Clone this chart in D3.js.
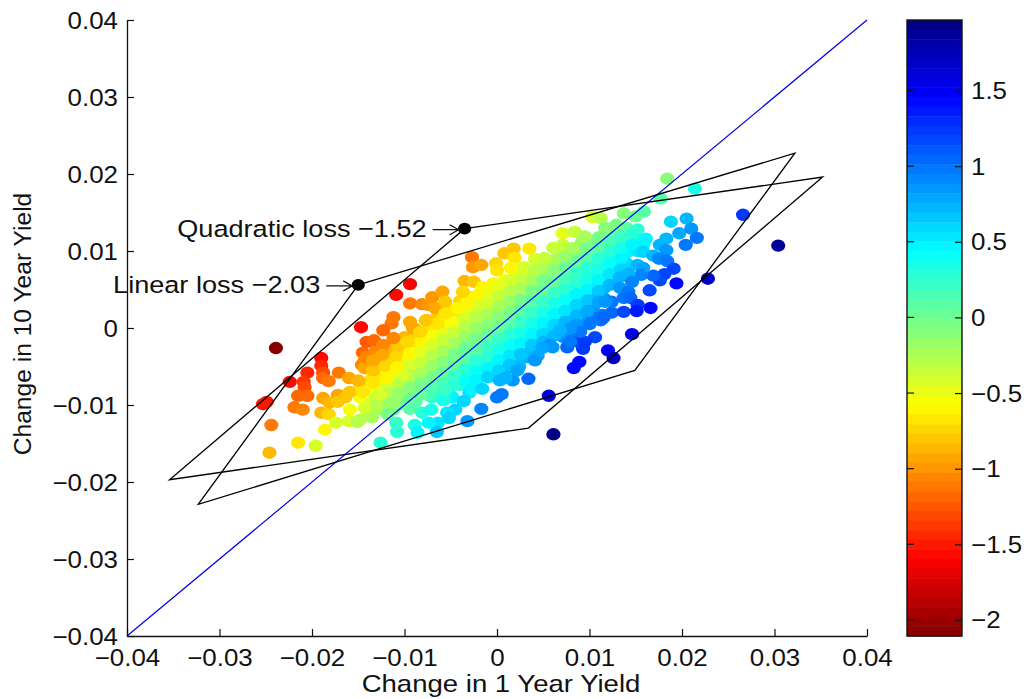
<!DOCTYPE html>
<html><head><meta charset="utf-8">
<script src="https://cdn.jsdelivr.net/npm/d3@7/dist/d3.min.js"></script>
<style>html,body{margin:0;background:#fff}svg{display:block}text{font-family:"Liberation Sans",Arial,sans-serif;fill:#111}</style>
</head><body><svg id="c" width="1026" height="699"></svg>
<script>
// Yield changes in basis points (1 bp = 0.0001), colour value = loss differential
// Dense core of the cloud (under the outer points)
const coreX=[
-148,-148,
-136,-136,-136,-136,-136,
-124,-124,-124,-124,-124,-124,
-112,-112,-112,-112,-112,-112,-112,
-100,-100,-100,-100,-100,-100,-100,
-88,-88,-88,-88,-88,-88,-88,-88,
-76,-76,-76,-76,-76,-76,-76,-76,
-64,-64,-64,-64,-64,-64,-64,-64,
-52,-52,-52,-52,-52,-52,-52,-52,-52,
-40,-40,-40,-40,-40,-40,-40,-40,-40,
-28,-28,-28,-28,-28,-28,-28,-28,-28,
-16,-16,-16,-16,-16,-16,-16,-16,-16,
-4,-4,-4,-4,-4,-4,-4,-4,-4,-4,
8,8,8,8,8,8,8,8,8,8,
20,20,20,20,20,20,20,20,20,20,
32,32,32,32,32,32,32,32,32,
44,44,44,44,44,44,44,44,44,
56,56,56,56,56,56,56,56,
68,68,68,68,68,68,68,68,
80,80,80,80,80,80,80,80,
92,92,92,92,92,92,92,92,
104,104,104,104,104,104,104,104,
116,116,116,116,116,116,116,
128,128,128,128,128,128,
140,140,140,140,
152,152,152,
8,24,44,60,72,84,100,112,124,-30,-48
];
const coreY=[
-72,-90,
-50,-66,-82,-97,-112,
-33,-48,-64,-78,-92,-106,
-22,-35,-50,-65,-79,-92,-106,
-12,-26,-40,-55,-70,-85,-98,
-2,-12,-25,-38,-52,-66,-80,-96,
10,-3,-16,-30,-43,-57,-71,-84,
16,2,-9,-23,-37,-51,-65,-78,
25,15,1,-13,-27,-41,-55,-68,-80,
35,22,8,-5,-19,-33,-47,-61,-74,
40,35,21,7,-7,-21,-35,-49,-62,
50,38,25,11,-3,-17,-31,-45,-58,
58,48,35,21,7,-7,-21,-35,-48,-60,
62,55,41,27,13,-1,-15,-29,-43,-55,
70,57,43,29,15,1,-13,-27,-41,-52,
72,58,43,29,15,1,-13,-27,-38,
82,69,55,41,27,13,-1,-15,-25,
85,69,55,41,27,13,-1,-12,
98,84,69,55,41,27,13,1,
95,82,68,54,40,26,12,0,
112,98,84,70,56,42,28,14,
112,98,84,70,56,42,28,14,
122,108,94,80,66,52,38,
128,114,100,86,72,58,
130,112,98,84,
128,114,100,
-62,-50,-36,-25,-12,-8,5,10,20,-84,-90
];
const coreValue=[
-0.75,-0.55,
-0.85,-0.7,-0.55,-0.4,-0.25,
-0.9,-0.75,-0.6,-0.45,-0.3,-0.15,
-0.9,-0.75,-0.6,-0.45,-0.3,-0.2,-0.05,
-0.85,-0.75,-0.6,-0.45,-0.3,-0.15,0,
-0.85,-0.75,-0.6,-0.5,-0.35,-0.2,-0.05,0.1,
-0.85,-0.7,-0.6,-0.45,-0.3,-0.2,-0.05,0.1,
-0.8,-0.65,-0.55,-0.4,-0.25,-0.1,0,0.15,
-0.75,-0.65,-0.5,-0.35,-0.2,-0.1,0.05,0.2,0.3,
-0.75,-0.6,-0.45,-0.3,-0.2,-0.05,0.1,0.25,0.35,
-0.7,-0.6,-0.5,-0.35,-0.2,-0.05,0.1,0.25,0.35,
-0.65,-0.5,-0.4,-0.25,-0.1,0.05,0.2,0.3,0.45,
-0.6,-0.5,-0.4,-0.25,-0.1,0.05,0.2,0.35,0.45,0.6,
-0.55,-0.45,-0.3,-0.15,-0.05,0.1,0.25,0.4,0.55,0.65,
-0.5,-0.35,-0.2,-0.05,0.05,0.2,0.35,0.5,0.65,0.75,
-0.4,-0.25,-0.1,0.05,0.2,0.35,0.5,0.65,0.75,
-0.35,-0.2,-0.1,0.05,0.2,0.35,0.5,0.65,0.75,
-0.25,-0.1,0,0.15,0.3,0.45,0.6,0.7,
-0.25,-0.1,0,0.15,0.3,0.45,0.6,0.7,
-0.1,0,0.15,0.3,0.45,0.6,0.75,0.85,
-0.15,-0.05,0.1,0.25,0.4,0.55,0.7,0.85,
-0.05,0.1,0.25,0.4,0.55,0.7,0.85,0.95,
-0.05,0.1,0.25,0.4,0.55,0.7,0.85,
0,0.15,0.3,0.45,0.6,0.75,
0.1,0.3,0.45,0.6,
0.25,0.4,0.55,
0.7,0.75,0.8,0.85,0.85,0.95,0.95,1,1.05,0.55,0.45
];
const xChange=[
-130,-130,-130,-130,
-118,-118,-118,-118,-118,-118,
-106,-106,-106,-106,-106,-106,
-94,-94,-94,-94,-94,-94,-94,
-82,-82,-82,-82,-82,-82,-82,
-70,-70,-70,-70,-70,-70,-70,-70,
-58,-58,-58,-58,-58,-58,-58,-58,
-46,-46,-46,-46,-46,-46,-46,-46,
-34,-34,-34,-34,-34,-34,-34,-34,
-22,-22,-22,-22,-22,-22,-22,-22,-22,
-10,-10,-10,-10,-10,-10,-10,-10,-10,
2,2,2,2,2,2,2,2,2,
14,14,14,14,14,14,14,14,14,
26,26,26,26,26,26,26,26,
38,38,38,38,38,38,38,
50,50,50,50,50,50,50,50,
62,62,62,62,62,62,62,62,
74,74,74,74,74,74,74,
86,86,86,86,86,86,86,86,
98,98,98,98,98,98,98,
110,110,110,110,110,110,110,
122,122,122,122,122,122,
134,134,134,134,
146,146,
-119,-107,-97,-130,-91,-83,-121,-118,-51,-64,-102,
-188,-190,-182,-186,-174,-181,-172,-164,-159,-172,-159,-160,-151,-135,-143,-145,-134,-119,-126,-112,-130,
-147,-109,-94,-112,-114,-123,-141,-133,-145,-146,-143,-143,-141,-132,-123,-112,-130,-121,-110,-124,-134,-108,-134,
-239,-253,-249,-224,-244,-246,-215,-196,
-190,-190,-205,-209,-208,-215,-205,-219,-210,-188,-188,-182,-171,-160,-150,
-94,-81,-70,-59,-75,-67,-56,-94,-77,-56,-43,-32,-35,-25,-37,-16,-27,-26,-17,-1,0,
8,18,19,15,35,29,41,51,41,61,71,82,71,84,95,103,112,137,150,159,129,117,184,177,214,
188,205,197,210,216,204,183,176,183,161,158,158,169,175,184,191,181,176,169,194,228,165,
152,158,156,133,142,146,133,142,137,144,124,117,152,137,151,166,114,115,146,120,126,266,304,
106,89,83,56,61,93,88,95,76,79,90,79,68,57,49,41,34,17,22,9,3,5,0,-17,-32,-36,-27,-16,-45,-54,-52,-64,-65,-74,-89,-86,-81,-71,-58,-75,-83,-56,-109,-108,-126,-148
];
const yChange=[
-60,-75,-90,-105,
-40,-55,-72,-85,-98,-112,
-28,-42,-58,-72,-85,-100,
-20,-32,-48,-62,-78,-92,-105,
-5,-18,-30,-45,-60,-72,-85,
5,-10,-22,-36,-50,-64,-78,-90,
12,-2,-16,-30,-44,-58,-72,-84,
22,8,-6,-20,-34,-48,-62,-74,
30,15,2,-12,-26,-40,-54,-68,
42,28,14,0,-14,-28,-42,-56,-68,
45,32,18,4,-10,-24,-38,-52,-64,
55,42,28,14,0,-14,-28,-42,-55,
62,48,34,20,6,-8,-22,-36,-48,
65,50,36,22,8,-6,-20,-34,
62,48,34,20,6,-8,-22,
76,62,48,34,20,6,-8,-18,
88,75,60,46,32,18,4,-10,
92,78,64,50,36,22,8,
100,86,72,58,44,30,16,4,
105,92,78,64,50,36,22,
118,104,90,76,62,48,34,
125,112,98,84,70,56,
118,104,90,76,
122,108,
-29,-22,-18,-25,0,-5,-48,-64,8,6,-61,
-91,-110,-112,-132,-123,-97,-87,-90,-83,-96,-106,-121,-122,-116,-104,-83,-71,-65,-87,-97,-100,
1,43,57,14,6,-3,-18,-16,-32,-48,-42,-52,-38,-31,-22,-13,-45,-49,-38,-35,-55,-51,-42,
-26,-99,-96,-70,-126,-162,-149,-153,
-39,-49,-58,-70,-77,-88,-88,-103,-106,-58,-65,-69,-58,-65,-68,
32,31,40,47,30,26,34,8,10,19,26,34,61,60,47,53,92,79,82,84,75,
97,103,91,78,103,79,90,91,75,104,108,104,123,125,119,144,143,149,145,151,134,130,194,168,181,
138,142,123,129,117,108,116,108,101,116,108,99,94,90,87,77,70,62,68,58,64,49,
82,78,69,66,71,60,52,47,39,39,34,34,30,21,22,26,17,13,-8,-29,-39,147,107,
-12,-44,-52,-88,-138,-27,-18,-18,-25,-18,-5,-1,-3,-22,-26,-42,-66,-68,-55,-65,-68,-86,-90,-105,-121,-95,-79,-79,-106,-110,-117,-123,-135,-123,-126,-136,-110,-106,-94,-87,-87,-81,-123,-135,-149,-119
];
const lossValue=[
-0.65,-0.5,-0.35,-0.2,
-0.75,-0.6,-0.45,-0.3,-0.15,-0.05,
-0.75,-0.6,-0.45,-0.3,-0.15,-0.05,
-0.7,-0.6,-0.4,-0.3,-0.1,0,0.1,
-0.75,-0.6,-0.5,-0.35,-0.2,-0.05,0.05,
-0.7,-0.55,-0.45,-0.3,-0.15,-0.05,0.1,0.2,
-0.65,-0.5,-0.35,-0.25,-0.1,0.05,0.15,0.3,
-0.65,-0.5,-0.35,-0.2,-0.05,0.05,0.2,0.3,
-0.6,-0.45,-0.3,-0.15,0,0.1,0.25,0.4,
-0.6,-0.45,-0.3,-0.15,-0.05,0.1,0.25,0.4,0.5,
-0.5,-0.4,-0.25,-0.1,0.05,0.2,0.3,0.45,0.6,
-0.5,-0.35,-0.2,-0.1,0.05,0.2,0.35,0.5,0.6,
-0.45,-0.3,-0.15,-0.05,0.1,0.25,0.4,0.55,0.65,
-0.35,-0.2,-0.05,0.1,0.2,0.35,0.5,0.65,
-0.2,-0.05,0.1,0.2,0.35,0.5,0.65,
-0.2,-0.05,0.05,0.2,0.35,0.5,0.6,0.75,
-0.2,-0.1,0.05,0.2,0.35,0.5,0.6,0.75,
-0.15,0,0.15,0.25,0.4,0.55,0.7,
-0.1,0.05,0.2,0.3,0.45,0.6,0.75,0.85,
-0.05,0.1,0.25,0.35,0.5,0.65,0.8,
-0.05,0.1,0.25,0.35,0.5,0.65,0.8,
0,0.15,0.3,0.4,0.55,0.7,
0.2,0.35,0.45,0.6,
0.3,0.45,
-0.85,-0.8,-0.75,-1,-0.9,-0.75,-0.7,-0.55,-0.55,-0.65,-0.4,
-0.95,-0.85,-0.75,-0.6,-0.45,-0.85,-0.9,-0.8,-0.8,-0.8,-0.55,-0.4,-0.3,-0.2,-0.4,-0.65,-0.7,-0.6,-0.4,-0.15,-0.3,
-1.55,-1.55,-1.6,-1.15,-1.1,-1.2,-1.25,-1.2,-1.2,-1.05,-1.05,-0.95,-1.05,-1.05,-1.05,-1.05,-0.85,-0.75,-0.75,-0.9,-0.8,-0.6,-0.95,
-2.08,-1.5,-1.5,-1.55,-1.15,-0.85,-0.7,-0.45,
-1.55,-1.45,-1.45,-1.35,-1.3,-1.2,-1.2,-1.1,-1.05,-1.3,-1.2,-1.15,-1.15,-0.95,-0.85,
-1.15,-1.05,-1,-0.95,-1,-0.9,-0.8,-0.95,-0.8,-0.7,-0.6,-0.6,-0.85,-0.8,-0.75,-0.6,-1.15,-1,-0.95,-0.75,-0.65,
-0.8,-0.8,-0.65,-0.6,-0.65,-0.45,-0.45,-0.35,-0.3,-0.35,-0.35,-0.2,-0.5,-0.35,-0.25,-0.4,-0.3,-0.1,0.05,0.1,-0.05,-0.1,-0.1,0.1,0.35,
0.6,0.7,0.8,0.85,1,1,0.75,0.75,0.85,0.5,0.5,0.6,0.75,0.9,1,1.2,1.15,1.2,1.05,1.4,1.65,1.2,
0.75,0.8,0.9,0.7,0.75,0.9,0.85,1,1,1.05,0.95,0.85,1.25,1.2,1.35,1.4,1,1.05,1.55,1.5,1.65,1.25,1.9,
1.2,1.4,1.45,1.6,2,1.25,1.2,1.25,1.05,1,1,0.85,0.75,0.85,0.8,0.85,1.05,0.85,0.8,0.75,0.7,0.95,0.95,0.9,0.85,0.6,0.5,0.6,0.6,0.55,0.6,0.55,0.65,0.45,0.35,0.45,0.3,0.35,0.35,0.15,0.05,0.2,0.2,0.3,0.25,-0.3
];
const axisTicks=[-400,-300,-200,-100,0,100,200,300,400];
const axisTickLabels=["−0.04","−0.03","−0.02","−0.01","0","0.01","0.02","0.03","0.04"];
const barTicks=[-2,-1.5,-1,-0.5,0,0.5,1,1.5];
const barTickLabels=["−2","−1.5","−1","−0.5","0","0.5","1","1.5"];
const colorLimits=[-2.106,1.966];
const quadPolyX=[-35,352,34,-354], quadPolyY=[129,196,-130,-197];
const linPolyX=[-150,322,149,-323], linPolyY=[56,227,-55,-229];
const refLineX=[-400,400], refLineY=[-400,400];

const svg=d3.select("#c"), SX=1.08;
const x=d3.scaleLinear().domain([-400,400]).range([127,867]);
const y=d3.scaleLinear().domain([-400,400]).range([636,20]);
const jetStops=[[0,0,128],[0,0,255],[0,255,255],[255,255,0],[255,0,0],[128,0,0]];
const jetPos=[0,1/8,3/8,5/8,7/8,1];
const jet=d3.scaleLinear().domain(jetPos).range(jetStops.map(s=>`rgb(${s.join(",")})`));
// 64-level colormap; highest values dark blue
const level=v=>{const t=Math.max(0,Math.min(63,Math.floor((colorLimits[1]-v)/(colorLimits[1]-colorLimits[0])*64)));return jet((t+.5)/64);};

const allX=coreX.concat(xChange), allY=coreY.concat(yChange), allV=coreValue.concat(lossValue);
svg.append("g").selectAll("ellipse").data(d3.range(allX.length)).join("ellipse")
 .attr("cx",i=>x(allX[i])).attr("cy",i=>y(allY[i])).attr("rx",7.1).attr("ry",6.2).attr("fill",i=>level(allV[i]));

const line=d3.line().x(d=>x(d[0])).y(d=>y(d[1]));
svg.append("path").attr("d",line(d3.zip(refLineX,refLineY))).attr("fill","none").attr("stroke","#0000ee").attr("stroke-width",1.2);
for(const [px,py] of [[quadPolyX,quadPolyY],[linPolyX,linPolyY]]){
 svg.append("path").attr("d",line(d3.zip(px,py))+"Z").attr("fill","none").attr("stroke","#000").attr("stroke-width",1.3);
 svg.append("ellipse").attr("cx",x(px[0])).attr("cy",y(py[0])).attr("rx",6.6).attr("ry",5.8).attr("fill","#000");
}
function styleAxis(g){g.selectAll("path,line").attr("stroke","#111").attr("stroke-width",1.2);g.select(".domain").attr("stroke-width",1.3);}
const fmt=d=>axisTickLabels[axisTicks.indexOf(d)];
const gx=svg.append("g").attr("transform","translate(0,636)").call(d3.axisBottom(x).tickValues(axisTicks).tickFormat(fmt).tickSize(-7).tickSizeOuter(0));
styleAxis(gx);
gx.selectAll("text").attr("font-size",24).attr("y",null).attr("dy",null).attr("text-anchor","middle").attr("transform","translate(0,30) scale("+SX+",1)");
const gy=svg.append("g").attr("transform","translate(127,0)").call(d3.axisLeft(y).tickValues(axisTicks).tickFormat(fmt).tickSize(-7).tickSizeOuter(0));
styleAxis(gy);
gy.selectAll("text").attr("font-size",24).attr("x",null).attr("dy",null).attr("text-anchor","end").attr("transform","translate(-9,8) scale("+SX+",1)");

function label(t,px,py,size,anchor,sx){return svg.append("text").text(t).attr("font-size",size).attr("text-anchor",anchor).attr("transform",`translate(${px},${py}) scale(${sx},1)`);}
label("Change in 1 Year Yield",501,692,24,"middle",1.148);
svg.append("text").text("Change in 10 Year Yield").attr("font-size",24.6).attr("text-anchor","middle").attr("transform","translate(31,324) rotate(-90)");
label("Quadratic loss −1.52",x(quadPolyX[0])-38,y(quadPolyY[0])+8,24.5,"end",1.107);
label("Linear loss −2.03",x(linPolyX[0])-38,y(linPolyY[0])+8,24.5,"end",1.107);
function arrow(xd,yd){const X=x(xd)-6,Y=y(yd)+1;
 svg.append("path").attr("d",`M${X-26},${Y}H${X}M${X-9},${Y-5}L${X},${Y}L${X-9},${Y+5}`).attr("fill","none").attr("stroke","#111").attr("stroke-width",1.2);}
arrow(quadPolyX[0],quadPolyY[0]);arrow(linPolyX[0],linPolyY[0]);

const barY=d3.scaleLinear().domain(colorLimits).range([636,20]);
const bar=svg.append("g");
const levels=d3.range(64);
bar.selectAll("rect").data(levels).join("rect").attr("x",907).attr("width",55)
 .attr("y",i=>20+i*616/64).attr("height",616/64+.5).attr("fill",i=>jet((i+.5)/64));
const ga=svg.append("g").attr("transform","translate(962,0)").call(d3.axisRight(barY).tickValues(barTicks).tickFormat(d=>barTickLabels[barTicks.indexOf(d)]).tickSize(-7).tickSizeOuter(0));
styleAxis(ga);ga.select(".domain").remove();
ga.selectAll("text").attr("font-size",24).attr("x",null).attr("dy",null).attr("text-anchor","start").attr("transform","translate(9,8) scale("+SX+",1)");
bar.append("rect").attr("x",907).attr("y",20).attr("width",55).attr("height",616).attr("fill","none").attr("stroke","#111").attr("stroke-width",1.4);
barTicks.forEach(t=>bar.append("line").attr("x1",907).attr("x2",914).attr("y1",barY(t)).attr("y2",barY(t)).attr("stroke","#111").attr("stroke-width",1.2));
</script></body></html>
